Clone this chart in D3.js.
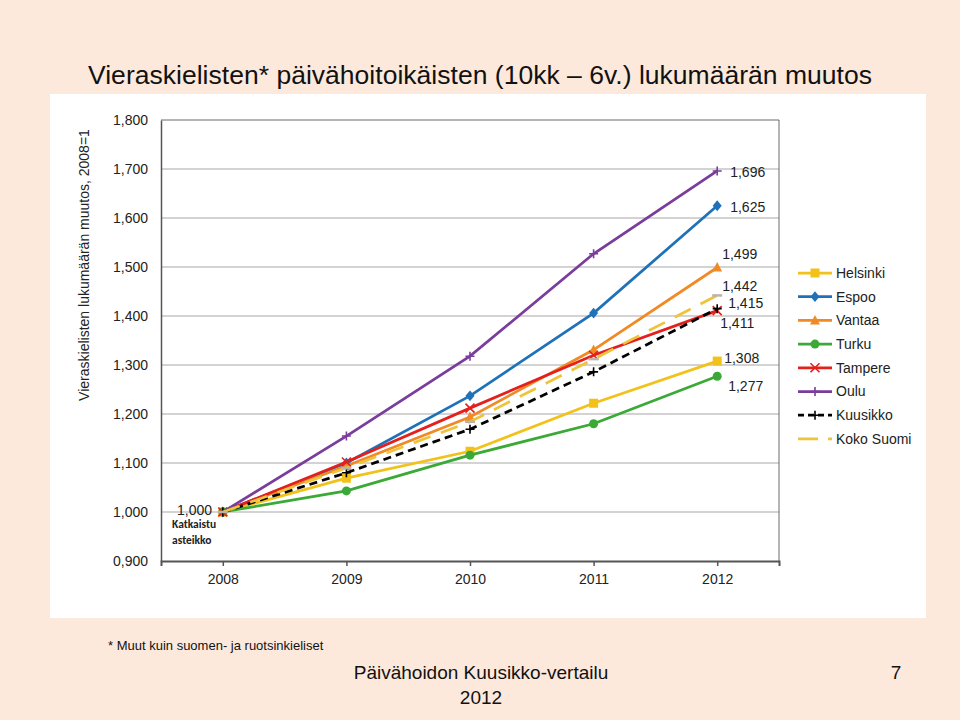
<!DOCTYPE html>
<html>
<head>
<meta charset="utf-8">
<script src="https://cdn.jsdelivr.net/npm/d3@7"></script>
<style>
  body { margin: 0; background: #fce9dc; }
  svg { display: block; font-family: "Liberation Sans", Arial, sans-serif; }
</style>
</head>
<body>
<svg id="chart" width="960" height="720"></svg>
<script>
// data (index, 2008 = 1)
var years = ["2008", "2009", "2010", "2011", "2012"];
var helsinki = [1.000, 1.069, 1.124, 1.222, 1.308];
var espoo    = [1.000, 1.100, 1.237, 1.406, 1.625];
var vantaa   = [1.000, 1.094, 1.194, 1.331, 1.499];
var turku    = [1.000, 1.043, 1.116, 1.180, 1.277];
var tampere  = [1.000, 1.102, 1.212, 1.320, 1.411];
var oulu     = [1.000, 1.155, 1.318, 1.527, 1.696];
var kuusikko = [1.000, 1.080, 1.169, 1.286, 1.415];
var kokoSuomi = [1.000, 1.090, 1.184, 1.312, 1.442];
var yTicks = [0.9, 1.0, 1.1, 1.2, 1.3, 1.4, 1.5, 1.6, 1.7, 1.8];

var series = [
  {name: "Helsinki", values: helsinki, color: "#f2c21b", marker: "square"},
  {name: "Espoo", values: espoo, color: "#1f72b8", marker: "diamond"},
  {name: "Vantaa", values: vantaa, color: "#f08a24", marker: "triangle"},
  {name: "Turku", values: turku, color: "#3aa935", marker: "circle"},
  {name: "Tampere", values: tampere, color: "#e4201d", marker: "x"},
  {name: "Oulu", values: oulu, color: "#7a3d9c", marker: "plus"},
  {name: "Kuusikko", values: kuusikko, color: "#000000", marker: "plus", dash: "8,5"},
  {name: "Koko Suomi", values: kokoSuomi, color: "#efc43a", marker: "dash", dash: "18,11"}
];

// end label offsets (dx, dy) relative to the 2012 point
var labelOffsets = {
  "Oulu": [13, 1], "Espoo": [13, 1], "Vantaa": [5, -13], "Koko Suomi": [5, -9],
  "Kuusikko": [11, -6], "Tampere": [3, 12], "Helsinki": [7, -3], "Turku": [11, 10]
};

var fmt = d3.formatLocale({decimal: ",", thousands: " ", grouping: [3], currency: ["", ""]}).format(".3f");

var svg = d3.select("#chart");

// white chart panel
svg.append("rect").attr("x", 50).attr("y", 94).attr("width", 876).attr("height", 524).attr("fill", "#ffffff");

svg.append("text")
  .attr("x", 88).attr("y", 84)
  .attr("textLength", 784)
  .style("font-size", "26.5px").style("fill", "#111")
  .text("Vieraskielisten* päivähoitoikäisten (10kk – 6v.) lukumäärän muutos");

var plotLeft = 161, plotRight = 779, plotTop = 120, plotBottom = 561;

var x = d3.scalePoint().domain(years).range([plotLeft, plotRight]).padding(0.5);
var y = d3.scaleLinear().domain([0.9, 1.8]).range([plotBottom, plotTop]);

// gridlines
svg.append("g").selectAll("line")
  .data(yTicks.filter(function(d) { return d > 0.9 && d < 1.8; }))
  .enter().append("line")
  .attr("x1", plotLeft).attr("x2", plotRight)
  .attr("y1", function(d) { return y(d); }).attr("y2", function(d) { return y(d); })
  .attr("stroke", "#c4c4c4").attr("stroke-width", 1.5);

// frame top / right
svg.append("path")
  .attr("d", "M" + plotLeft + "," + plotTop + "H" + plotRight + "V" + plotBottom)
  .attr("fill", "none").attr("stroke", "#6a6a6a").attr("stroke-width", 1);

// Y axis
var yAxis = svg.append("g")
  .attr("transform", "translate(" + plotLeft + ",0)")
  .call(d3.axisLeft(y).tickValues(yTicks).tickFormat(fmt).tickSize(0).tickPadding(13));
yAxis.select(".domain").attr("stroke", "#555").attr("stroke-width", 1.5);
yAxis.selectAll("text").style("font-size", "14px").style("fill", "#222").style("font-family", "Liberation Sans, Arial, sans-serif");

svg.append("text")
  .attr("transform", "translate(89,265) rotate(-90)")
  .attr("text-anchor", "middle")
  .style("font-size", "14px").style("fill", "#222")
  .text("Vieraskielisten lukumäärän muutos,  2008=1");

// X axis
var xAxis = svg.append("g")
  .attr("transform", "translate(0," + plotBottom + ")")
  .call(d3.axisBottom(x).tickSize(5).tickSizeOuter(5).tickPadding(8));
xAxis.select(".domain").attr("stroke", "#555").attr("stroke-width", 2);
xAxis.selectAll("line").attr("stroke", "#555").attr("stroke-width", 1.5);
xAxis.selectAll("text").style("font-size", "14px").style("fill", "#222").style("font-family", "Liberation Sans, Arial, sans-serif");

function drawMarker(g, type, color, cx, cy, s) {
  if (type == "square") {
    g.append("rect").attr("x", cx - s / 2).attr("y", cy - s / 2).attr("width", s).attr("height", s).attr("fill", color);
  } else if (type == "diamond") {
    g.append("path").attr("d", "M" + cx + "," + (cy - s * 0.6) + "L" + (cx + s * 0.5) + "," + cy + "L" + cx + "," + (cy + s * 0.6) + "L" + (cx - s * 0.5) + "," + cy + "Z").attr("fill", color);
  } else if (type == "triangle") {
    g.append("path").attr("d", "M" + cx + "," + (cy - s * 0.6) + "L" + (cx + s * 0.55) + "," + (cy + s * 0.45) + "L" + (cx - s * 0.55) + "," + (cy + s * 0.45) + "Z").attr("fill", color);
  } else if (type == "circle") {
    g.append("circle").attr("cx", cx).attr("cy", cy).attr("r", s / 2).attr("fill", color);
  } else if (type == "x") {
    var h = s / 2;
    g.append("path").attr("d", "M" + (cx - h) + "," + (cy - h) + "L" + (cx + h) + "," + (cy + h) + "M" + (cx + h) + "," + (cy - h) + "L" + (cx - h) + "," + (cy + h))
      .attr("stroke", color).attr("stroke-width", 1.6);
  } else if (type == "plus") {
    var p = s / 2;
    g.append("path").attr("d", "M" + (cx - p) + "," + cy + "H" + (cx + p) + "M" + cx + "," + (cy - p) + "V" + (cy + p))
      .attr("stroke", color).attr("stroke-width", 1.6);
  } else if (type == "dash") {
    g.append("path").attr("d", "M" + (cx - 5) + "," + cy + "H" + (cx + 5))
      .attr("stroke", "#bdb3a8").attr("stroke-width", 2.5);
  }
}

var line = d3.line()
  .x(function(d, i) { return x(years[i]); })
  .y(function(d) { return y(d); });

var plot = svg.append("g");
series.forEach(function(s) {
  var g = plot.append("g");
  g.append("path")
    .datum(s.values)
    .attr("fill", "none")
    .attr("stroke", s.color)
    .attr("stroke-width", 2.75)
    .attr("stroke-dasharray", s.dash || null)
    .attr("d", line);
  s.values.forEach(function(v, i) {
    drawMarker(g, s.marker, s.color, x(years[i]), y(v), 9);
  });
});

// end value labels
series.forEach(function(s) {
  var v = s.values[s.values.length - 1];
  var off = labelOffsets[s.name];
  svg.append("text")
    .attr("x", x("2012") + off[0]).attr("y", y(v) + off[1])
    .attr("dy", "0.35em")
    .style("font-size", "14px").style("fill", "#222")
    .text(fmt(v));
});

// start label and break note
svg.append("text")
  .attr("x", 212).attr("y", y(1.0)).attr("dy", "0.2em")
  .attr("text-anchor", "end")
  .style("font-size", "14px").style("fill", "#222")
  .text(fmt(1.0));
svg.append("text").attr("x", 172).attr("y", 528)
  .style("font-family", "Carlito, Lato, sans-serif").style("font-weight", "bold").style("font-size", "11.5px").style("fill", "#222")
  .text("Katkaistu");
svg.append("text").attr("x", 172).attr("y", 544)
  .style("font-family", "Carlito, Lato, sans-serif").style("font-weight", "bold").style("font-size", "11.5px").style("fill", "#222")
  .text("asteikko");

// legend
var legend = svg.append("g").attr("transform", "translate(798,273)");
series.forEach(function(s, i) {
  var g = legend.append("g").attr("transform", "translate(0," + (i * 23.7) + ")");
  if (s.name == "Koko Suomi") {
    g.append("path").attr("d", "M0,0H20M30,0H34").attr("stroke", s.color).attr("stroke-width", 2.75);
  } else {
    g.append("path").attr("d", "M0,0H34").attr("stroke", s.color).attr("stroke-width", 2.75)
      .attr("stroke-dasharray", s.dash ? "6,4" : null);
    drawMarker(g, s.marker, s.color, 17, 0, 9);
  }
  g.append("text").attr("x", 38).attr("dy", "0.35em")
    .style("font-size", "14px").style("fill", "#222")
    .text(s.name);
});

// footer
svg.append("text").attr("x", 108).attr("y", 650)
  .style("font-size", "13px").style("fill", "#111")
  .text("* Muut kuin suomen- ja ruotsinkieliset");
svg.append("text").attr("x", 481).attr("y", 679).attr("text-anchor", "middle")
  .style("font-size", "19px").style("fill", "#111")
  .text("Päivähoidon Kuusikko-vertailu");
svg.append("text").attr("x", 481).attr("y", 704).attr("text-anchor", "middle")
  .style("font-size", "19px").style("fill", "#111")
  .text("2012");
svg.append("text").attr("x", 896).attr("y", 679).attr("text-anchor", "middle")
  .style("font-size", "19px").style("fill", "#111")
  .text("7");
</script>
</body>
</html>
